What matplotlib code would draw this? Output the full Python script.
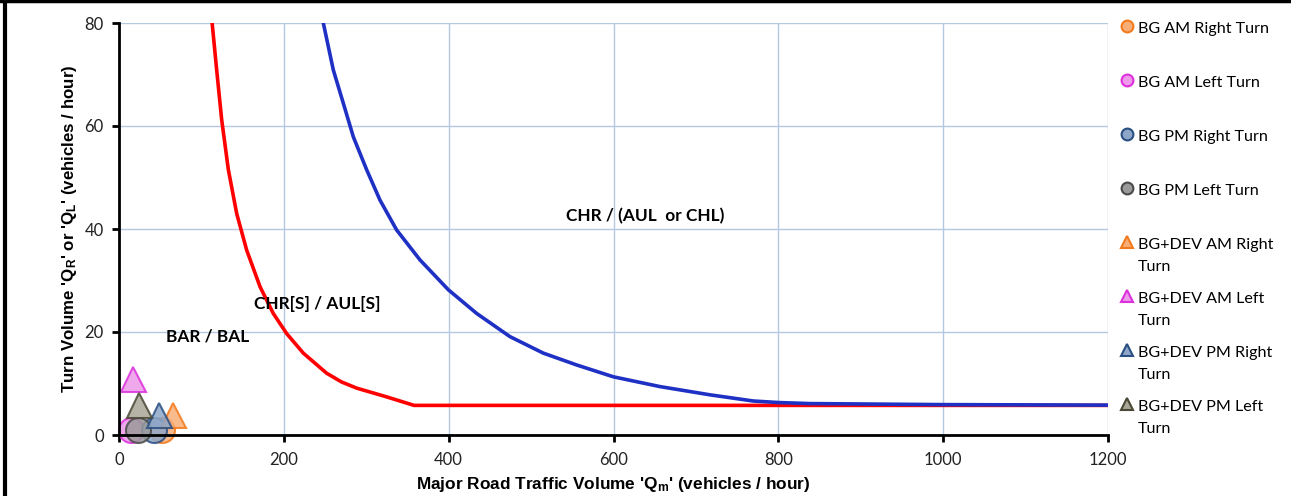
import numpy as np
import matplotlib.pyplot as plt
from matplotlib.lines import Line2D

plt.rcParams['mathtext.fontset'] = 'custom'
plt.rcParams['mathtext.rm'] = 'Liberation Sans:bold'
plt.rcParams['mathtext.it'] = 'Liberation Sans:bold'
plt.rcParams['mathtext.bf'] = 'Liberation Sans:bold'

# warrant curves
red_x = [113, 118.5, 124.6, 132.7, 142.8, 154.9, 171.1, 187.2, 203.4, 223.6, 251.9,
         270, 288.4, 324.8, 358, 1200]
red_y = [80, 70.9, 61.2, 51.5, 43.0, 35.9, 28.8, 23.6, 19.7, 15.9, 12.0,
         10.3, 9.1, 7.4, 5.75, 5.75]
blue_x = [247.9, 260, 272.2, 284.3, 300.5, 316.7, 336.9, 365.2, 399.6, 434, 474.4,
          514.8, 555.3, 599.8, 656.4, 717.1, 769.7, 800.4, 838.4, 1000, 1200]
blue_y = [80, 70.9, 64.4, 57.9, 51.5, 45.6, 39.8, 34.0, 28.2, 23.6, 19.1,
          15.9, 13.6, 11.3, 9.4, 7.8, 6.6, 6.3, 6.1, 5.9, 5.8]

# observed turn volumes
labels = ['BG AM Right Turn', 'BG AM Left Turn', 'BG PM Right Turn', 'BG PM Left Turn',
          'BG+DEV AM Right\nTurn', 'BG+DEV AM Left\nTurn', 'BG+DEV PM Right\nTurn',
          'BG+DEV PM Left\nTurn']
qm = [52, 15, 42, 23, 65, 17, 49, 24]
qt = [1, 1, 1, 1, 3.9, 10.8, 3.9, 5.9]
markers = ['o', 'o', 'o', 'o', '^', '^', '^', '^']
faces = ['#F9AE78', '#EE99EA', '#8EA7C9', '#9A9A9A',
         '#F9AE78', '#EE99EA', '#8EA7C9', '#A8A797']
edges = ['#F27A1C', '#DC30DC', '#2A4F82', '#4A4A4A',
         '#F27A1C', '#DC30DC', '#2A4F82', '#4A4935']

regions = ['BAR / BAL', 'CHR[S] / AUL[S]', 'CHR / (AUL  or CHL)']
region_x = [108, 241, 638]
region_y = [19.2, 25.4, 42.5]

fig = plt.figure(figsize=(12.91, 4.96), dpi=100)
ax = fig.add_axes([119 / 1291, 61 / 496, 989 / 1291, 412 / 496])

ax.plot(red_x, red_y, color='#FF0000', lw=2.6, zorder=3)
ax.plot(blue_x, blue_y, color='#1F30C4', lw=2.6, zorder=3)

for i in range(len(labels)):
    ax.plot(qm[i], qt[i], marker=markers[i], ms=18, mfc=faces[i], mec=edges[i],
            mew=1.5, alpha=0.85, ls='none', zorder=4, clip_on=False)

for t, x, y in zip(regions, region_x, region_y):
    ax.text(x, y, t, ha='center', va='center', fontsize=12.4,
            fontweight='bold', family='Lato')

ax.set_xlim(0, 1200)
ax.set_ylim(0, 80)
ax.set_xticks(np.arange(0, 1201, 200))
ax.set_yticks(np.arange(0, 81, 20))
ax.grid(True, color='#B4C8E2', lw=1)
ax.set_axisbelow(True)
for s in ['top', 'right']:
    ax.spines[s].set_visible(False)
for s in ['left', 'bottom']:
    ax.spines[s].set_linewidth(2)
    ax.spines[s].set_zorder(5)
ax.tick_params(direction='out', length=5, width=2, labelsize=12, colors='black')
ax.tick_params(axis='x', pad=7)
ax.tick_params(axis='y', pad=6)
for lab in ax.get_xticklabels() + ax.get_yticklabels():
    lab.set_family('Lato')
    lab.set_color('#222222')

ax.set_xlabel("Major Road Traffic Volume 'Q$_\\mathrm{m}$' (vehicles / hour)",
              fontsize=12.4, fontweight='bold', family='Liberation Sans', labelpad=5)
ax.set_ylabel("Turn Volume 'Q$_\\mathrm{R}$' or 'Q$_\\mathrm{L}$' (vehicles / hour)",
              fontsize=12.2, fontweight='bold', family='Liberation Sans', labelpad=4)

# legend and frame drawn in pixel coordinates
lax = fig.add_axes([0, 0, 1, 1], zorder=10)
lax.set_xlim(0, 1291)
lax.set_ylim(496, 0)
lax.axis('off')
for i in range(len(labels)):
    y = 26 + 54 * i
    lax.plot(1127, y, marker=markers[i], ms=8.5, mfc=faces[i], mec=edges[i], mew=1.5)
    lax.text(1138, y - 4, labels[i], ha='left', va='top', fontsize=11.6,
             family='Lato', linespacing=1.72)
lax.add_line(Line2D([0, 1291], [1.2, 1.2], color='black', lw=2.5))
lax.add_line(Line2D([4.5, 4.5], [0, 496], color='black', lw=3))

fig.savefig('out.png', dpi=100)
